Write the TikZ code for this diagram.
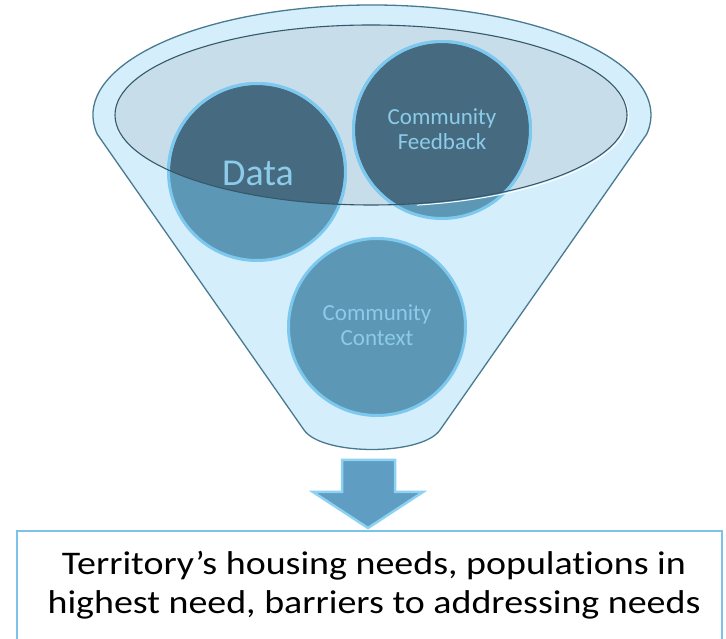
\documentclass[tikz,border=0pt]{standalone}
\usepackage{fontspec}
\setmainfont{Carlito}[Ligatures=NoCommon]
\definecolor{funnelfill}{RGB}{212,238,251}
\definecolor{funnelline}{RGB}{74,122,144}
\definecolor{innerfill}{RGB}{199,222,234}
\definecolor{innerline}{RGB}{53,89,107}
\definecolor{circlight}{RGB}{92,151,182}
\definecolor{circdark}{RGB}{70,107,128}
\definecolor{circborder}{RGB}{124,200,238}
\definecolor{circtext}{RGB}{140,203,234}
\definecolor{arrowfill}{RGB}{95,158,194}
\definecolor{arrowline}{RGB}{141,210,242}
\definecolor{boxline}{RGB}{125,195,233}
\begin{document}
\begin{tikzpicture}[x=1pt,y=1pt,
  bubble/.style={circle, minimum size=177pt, inner sep=0pt, fill=circlight, draw=circborder, line width=3pt},
  bubbletext/.style={text=circtext, align=center, inner sep=0pt, font=\fontsize{23}{25}\selectfont},
]
\useasboundingbox (0,0) rectangle (726,639);
% funnel body
\path[fill=funnelfill, draw=funnelline, line width=1.3pt]
  (97.2,504.9) arc[start angle=190, end angle=-10, x radius=279pt, y radius=110pt]
  -- (440,209) .. controls (422,183) and (322,183) .. (304,209) -- cycle;
% inner ellipse fill
\fill[innerfill] (371,524) ellipse[x radius=256pt, y radius=90pt];
% circles
\node[bubble] (data) at (257,467) {};
\node[bubble] (feedback) at (442,509) {};
\node[bubble] (context) at (377,312) {};
% darker parts inside the rim
\begin{scope}
  \clip (371,524) ellipse[x radius=256pt, y radius=90pt];
  \fill[circdark] (data.center) circle[radius=87pt];
  \fill[circdark] (feedback.center) circle[radius=87pt];
  \draw[circborder, line width=3pt] (data.center) circle[radius=88.5pt];
  \draw[circborder, line width=3pt] (feedback.center) circle[radius=88.5pt];
\end{scope}
% rim outline
\draw[white, line width=1pt] ([shift={(1.5,-1.5)}]371,524) ++(-80:256pt and 90pt)
  arc[start angle=-80, end angle=15, x radius=256pt, y radius=90pt];
\draw[innerline, line width=1.1pt] (371,524) ellipse[x radius=256pt, y radius=90pt];
% texts
\node[text=circtext, inner sep=0pt, font=\fontsize{38}{40}\selectfont] (datatext) at (258,466) {Data};
\node[bubbletext] (feedbacktext) at (442,509.5) {Community\\Feedback};
\node[bubbletext] (contexttext) at (377,314) {Community\\Context};
% block arrow
\coordinate (arrtip) at (368,111);
\draw[fill=arrowfill, draw=arrowline, line width=2.5pt, line join=miter]
  (342,179) -- (395,179) -- (395,147) -- (423,147) -- (arrtip) -- (313,147) -- (342,147) -- cycle;
% result box
\node[draw=boxline, line width=2pt, minimum width=705pt, minimum height=130pt, inner sep=0pt] (outbox) at (369.5,43) {};
\node[align=center, inner sep=0pt, transform shape, xscale=1.15, font=\fontsize{33}{39}\selectfont] (outtext) at (374,54) {Territory’s housing needs, populations in\\highest need, barriers to addressing needs};
\end{tikzpicture}
\end{document}
